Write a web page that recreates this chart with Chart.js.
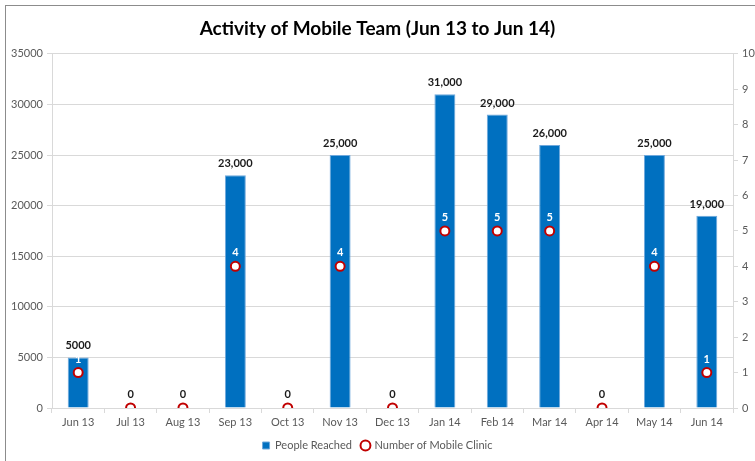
<!DOCTYPE html>
<html>
<head>
<meta charset="utf-8">
<script src="https://cdn.jsdelivr.net/npm/chart.js@4"></script>
<style>
  html, body { margin: 0; padding: 0; background: #fff; }
  #wrap { position: relative; width: 755px; height: 461px; }
  #frame { position: absolute; left: 5px; top: 5px; width: 760px; height: 470px;
           border-left: 1px solid #8c8c8c; border-top: 1px solid #8c8c8c; }
  canvas { position: absolute; left: 0; top: 0; }
</style>
</head>
<body>
<div id="wrap">
  <div id="frame"></div>
  <canvas id="myChart" width="755" height="461"></canvas>
</div>
<script>
const months = ["Jun 13", "Jul 13", "Aug 13", "Sep 13", "Oct 13", "Nov 13", "Dec 13",
                "Jan 14", "Feb 14", "Mar 14", "Apr 14", "May 14", "Jun 14"];
const peopleReached = [5000, 0, 0, 23000, 0, 25000, 0, 31000, 29000, 26000, 0, 25000, 19000];
const peopleLabels = ["5000", "", "", "23,000", "", "25,000", "", "31,000", "29,000", "26,000", "", "25,000", "19,000"];
const mobileClinics = [1, 0, 0, 4, 0, 4, 0, 5, 5, 5, 0, 4, 1];

const colors = {
  blue: "#0070C0",
  blueEdge: "#6FA8DC",
  red: "#C00000",
  grid: "#D9D9D9",
  text: "#595959"
};
const font = "Lato, 'Noto Sans', sans-serif";

const labelPlugin = {
  id: "valueLabels",
  afterDatasetsDraw(chart) {
    const ctx = chart.ctx;
    ctx.save();
    ctx.textAlign = "center";
    ctx.textBaseline = "bottom";
    chart.getDatasetMeta(0).data.forEach((bar, i) => {
      if (!peopleLabels[i]) return;
      ctx.font = "bold 11px " + font;
      ctx.fillStyle = "#1a1a1a";
      ctx.fillText(peopleLabels[i], bar.x, bar.y - 6);
    });
    chart.getDatasetMeta(1).data.forEach((pt, i) => {
      const v = mobileClinics[i];
      ctx.font = "bold 11px " + font;
      ctx.fillStyle = v === 0 ? "#1a1a1a" : "#ffffff";
      ctx.fillText(String(v), pt.x, pt.y - 8);
    });
    ctx.restore();
  }
};

const ctx = document.getElementById("myChart").getContext("2d");
new Chart(ctx, {
  type: "bar",
  data: {
    labels: months,
    datasets: [
      {
        type: "bar",
        label: "People Reached",
        data: peopleReached,
        backgroundColor: colors.blue,
        borderColor: colors.blueEdge,
        borderWidth: 1,
        categoryPercentage: 1,
        barPercentage: 0.4,
        yAxisID: "y",
        pointStyle: "rect",
        order: 2
      },
      {
        type: "line",
        label: "Number of Mobile Clinic",
        data: mobileClinics,
        showLine: false,
        pointStyle: "circle",
        pointRadius: 4.5,
        pointBorderWidth: 2,
        pointBackgroundColor: "#ffffff",
        pointBorderColor: colors.red,
        backgroundColor: "#ffffff",
        borderColor: colors.red,
        borderWidth: 2,
        yAxisID: "y1",
        order: 1
      }
    ]
  },
  options: {
    responsive: false,
    animation: false,
    layout: { padding: { left: 0, right: 0, top: 0, bottom: 0 } },
    plugins: {
      title: {
        display: true,
        text: "Activity of Mobile Team (Jun 13 to Jun 14)",
        color: "#000",
        font: { family: font, size: 19, weight: "bold" },
        padding: { top: 17, bottom: 14 }
      },
      legend: {
        position: "bottom",
        labels: {
          usePointStyle: true,
          boxWidth: 7,
          boxHeight: 7,
          color: colors.text,
          font: { family: font, size: 11 },
          padding: 10,
          sort: (a, b) => a.datasetIndex - b.datasetIndex
        }
      },
      tooltip: { enabled: false }
    },
    scales: {
      x: {
        offset: true,
        grid: { display: true, drawOnChartArea: false, offset: true, tickLength: 5, color: colors.grid },
        border: { color: colors.grid },
        ticks: { color: colors.text, font: { family: font, size: 11 }, padding: 3 },
        afterFit: scale => { scale.height = 22; }
      },
      y: {
        position: "left",
        min: 0,
        max: 35000,
        grid: { color: colors.grid, tickLength: 5 },
        border: { color: colors.grid },
        ticks: { stepSize: 5000, color: colors.text, font: { family: font, size: 11 }, padding: 4,
                 callback: value => String(value) },
        afterFit: scale => { scale.width = 52; }
      },
      y1: {
        position: "right",
        min: 0,
        max: 10,
        grid: { drawOnChartArea: false, tickLength: 5, color: colors.grid },
        border: { color: colors.grid },
        ticks: { stepSize: 1, color: colors.text, font: { family: font, size: 11 }, padding: 4 },
        afterFit: scale => { scale.width = 22; }
      }
    }
  },
  plugins: [labelPlugin]
});
</script>
</body>
</html>
